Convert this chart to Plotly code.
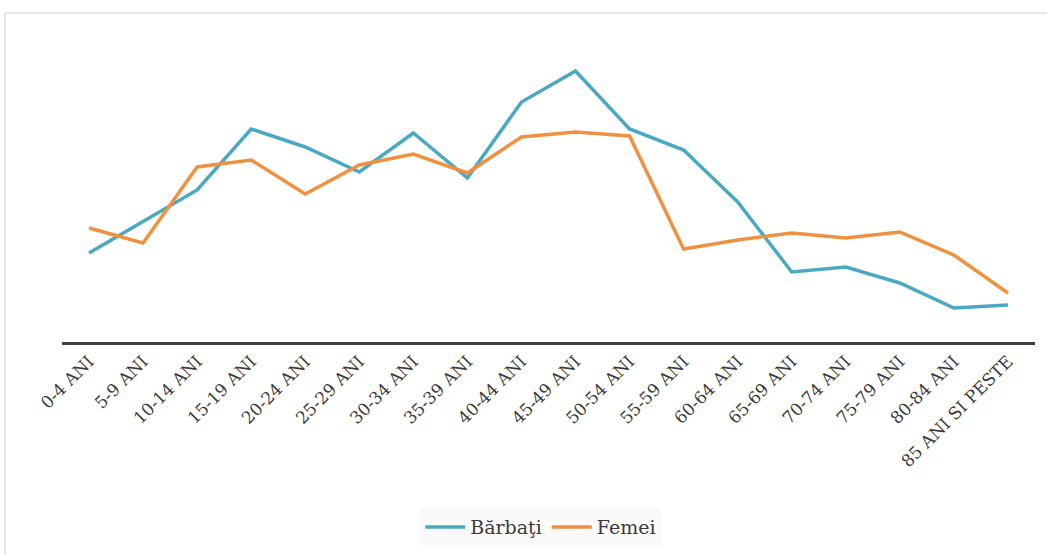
import plotly.graph_objects as go

categories = ["0-4 ANI", "5-9 ANI", "10-14 ANI", "15-19 ANI", "20-24 ANI", "25-29 ANI",
              "30-34 ANI", "35-39 ANI", "40-44 ANI", "45-49 ANI", "50-54 ANI", "55-59 ANI",
              "60-64 ANI", "65-69 ANI", "70-74 ANI", "75-79 ANI", "80-84 ANI", "85 ANI SI PESTE"]

barbati = [89, 121, 152, 213, 195, 170, 209, 164, 240, 271, 213, 192,
           140, 70, 75, 59, 34, 37]
femei = [114, 99, 175, 182, 148, 177, 188, 169, 205, 210, 206, 93,
         102, 109, 104, 110, 87, 49]

font_family = "DejaVu Serif, Liberation Serif, serif"

fig = go.Figure()
fig.add_trace(go.Scatter(x=categories, y=barbati, mode="lines", name="Bărbaţi",
                         line=dict(color="#4aa8c2", width=3.5)))
fig.add_trace(go.Scatter(x=categories, y=femei, mode="lines", name="Femei",
                         line=dict(color="#f0913f", width=3.5)))

fig.update_layout(
    width=1047, height=555,
    margin=dict(l=62, r=12, t=40, b=213, autoexpand=False),
    paper_bgcolor="white", plot_bgcolor="white",
    font=dict(family=font_family, color="#3a3a3a", size=18),
    showlegend=True,
    legend=dict(orientation="h", x=0.492, xanchor="center", y=-0.613, yanchor="middle",
                bgcolor="#fafafa", font=dict(size=19, color="#3a3a3a"),
                itemwidth=40),
    xaxis=dict(type="category", range=[-0.5, 17.5], tickangle=-45, automargin=False,
               showline=True, linecolor="#404040", linewidth=2.5,
               showgrid=False, ticks="", tickfont=dict(size=17, color="#3a3a3a")),
    yaxis=dict(range=[0, 302], visible=False, showgrid=False, zeroline=False,
               automargin=False),
    shapes=[dict(type="rect", xref="paper", yref="paper",
                 x0=(5 - 62) / 973, x1=1.02, y0=-0.8, y1=(342 - 13) / 302,
                 line=dict(color="#e0e0e0", width=1.5), fillcolor="rgba(0,0,0,0)",
                 layer="below")],
)

fig.write_html("out.html", config={"displayModeBar": False},
               post_script="document.body.style.margin='0';document.body.style.overflow='hidden';")
